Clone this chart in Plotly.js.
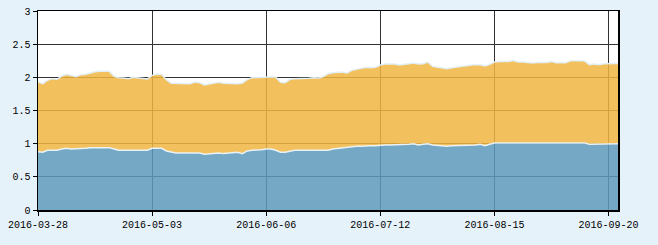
<!DOCTYPE html>
<html>
<head>
<meta charset="utf-8">
<script src="https://cdn.plot.ly/plotly-3.0.1.min.js"></script>
<style>
html,body{margin:0;padding:0;background:#e6f2fa;}
#chart{width:658px;height:245px;}
</style>
</head>
<body>
<div id="chart"></div>
<script>
const dates = [
"2016-03-28","2016-03-29","2016-03-30","2016-03-31","2016-04-01",
"2016-04-05","2016-04-06","2016-04-07","2016-04-08",
"2016-04-11","2016-04-12","2016-04-13","2016-04-14","2016-04-15",
"2016-04-18","2016-04-19","2016-04-20","2016-04-21","2016-04-22",
"2016-04-25","2016-04-26","2016-04-27","2016-04-28","2016-04-29",
"2016-05-03","2016-05-04","2016-05-05","2016-05-06",
"2016-05-09","2016-05-10","2016-05-11","2016-05-12","2016-05-13",
"2016-05-16","2016-05-17","2016-05-18","2016-05-19","2016-05-20",
"2016-05-23","2016-05-24","2016-05-25","2016-05-26","2016-05-27",
"2016-05-30","2016-05-31","2016-06-01","2016-06-02","2016-06-03",
"2016-06-06","2016-06-07","2016-06-08",
"2016-06-13","2016-06-14","2016-06-15","2016-06-16","2016-06-17",
"2016-06-20","2016-06-21","2016-06-22","2016-06-23","2016-06-24",
"2016-06-27","2016-06-28","2016-06-29","2016-06-30","2016-07-01",
"2016-07-04","2016-07-05","2016-07-06","2016-07-07","2016-07-08",
"2016-07-11","2016-07-12","2016-07-13","2016-07-14","2016-07-15",
"2016-07-18","2016-07-19","2016-07-20","2016-07-21","2016-07-22",
"2016-07-25","2016-07-26","2016-07-27","2016-07-28","2016-07-29",
"2016-08-01","2016-08-02","2016-08-03","2016-08-04","2016-08-05",
"2016-08-08","2016-08-09","2016-08-10","2016-08-11","2016-08-12",
"2016-08-15","2016-08-16","2016-08-17","2016-08-18","2016-08-19",
"2016-08-22","2016-08-23","2016-08-24","2016-08-25","2016-08-26",
"2016-08-29","2016-08-30","2016-08-31","2016-09-01","2016-09-02",
"2016-09-05","2016-09-06","2016-09-07","2016-09-08","2016-09-09",
"2016-09-12","2016-09-13","2016-09-14",
"2016-09-19","2016-09-20","2016-09-21","2016-09-22"
];

const seriesBlue = [
0.88,0.87,0.90,0.90,0.90,0.92,0.93,0.92,0.92,0.93,
0.93,0.94,0.94,0.94,0.94,0.94,0.92,0.90,0.90,0.90,
0.90,0.90,0.90,0.90,0.93,0.93,0.93,0.89,0.87,0.86,
0.86,0.86,0.86,0.86,0.86,0.84,0.85,0.86,0.86,0.85,
0.86,0.86,0.87,0.85,0.89,0.90,0.90,0.91,0.92,0.92,
0.90,0.87,0.87,0.89,0.90,0.90,0.90,0.90,0.91,0.90,
0.91,0.90,0.92,0.93,0.94,0.95,0.95,0.96,0.96,0.97,
0.97,0.97,0.98,0.98,0.98,0.98,0.98,0.98,0.99,1.00,
0.98,0.99,1.00,0.98,0.97,0.97,0.96,0.97,0.97,0.97,
0.98,0.98,0.98,0.99,0.97,0.99,1.01,1.01,1.01,1.01,
1.00,1.00,1.00,1.00,1.00,1.00,1.01,1.01,1.01,1.00,
1.00,1.00,1.01,1.01,1.01,1.01,0.99,0.99,0.99,0.99,
0.99,1.00,1.00
];

const seriesOrange = [
1.05,1.035,1.055,1.08,1.07,1.10,1.115,1.11,1.09,1.11,
1.115,1.125,1.145,1.15,1.145,1.15,1.095,1.095,1.09,1.08,
1.10,1.09,1.09,1.075,1.10,1.12,1.115,1.075,1.04,1.05,
1.045,1.045,1.045,1.07,1.06,1.045,1.05,1.05,1.065,1.06,
1.045,1.045,1.035,1.065,1.075,1.095,1.10,1.095,1.09,1.085,
1.105,1.055,1.05,1.08,1.08,1.08,1.09,1.085,1.085,1.09,
1.10,1.155,1.15,1.145,1.14,1.115,1.155,1.16,1.175,1.18,
1.175,1.18,1.205,1.22,1.22,1.22,1.205,1.22,1.215,1.215,
1.22,1.215,1.23,1.185,1.185,1.175,1.17,1.175,1.185,1.195,
1.19,1.20,1.215,1.20,1.20,1.205,1.22,1.23,1.23,1.23,
1.255,1.23,1.23,1.225,1.215,1.225,1.215,1.215,1.23,1.22,
1.22,1.22,1.24,1.245,1.24,1.235,1.20,1.21,1.20,1.215,
1.215,1.21,1.21
];

const xTicks = ["2016-03-28","2016-05-03","2016-06-06","2016-07-12","2016-08-15","2016-09-20"];
const yTicks = [0,0.5,1,1.5,2,2.5,3];

const traces = [
  {
    x: dates, y: seriesBlue, type: 'scatter', mode: 'lines',
    stackgroup: 'one', fill: 'tozeroy',
    line: {color: 'rgba(235,244,250,0.95)', width: 1.5},
    fillcolor: 'rgba(94,154,188,0.86)',
    hoverinfo: 'skip', showlegend: false
  },
  {
    x: dates, y: seriesOrange, type: 'scatter', mode: 'lines',
    stackgroup: 'one', fill: 'tonexty',
    line: {color: 'rgba(225,240,250,0.95)', width: 1.5},
    fillcolor: 'rgba(241,181,66,0.85)',
    hoverinfo: 'skip', showlegend: false
  }
];

const layout = {
  width: 658, height: 245,
  margin: {l: 38, r: 40, t: 11, b: 35, pad: 0},
  paper_bgcolor: '#e6f2fa',
  plot_bgcolor: '#ffffff',
  font: {family: '"Liberation Mono", "DejaVu Sans Mono", monospace', size: 10, color: '#000'},
  showlegend: false,
  xaxis: {
    type: 'category',
    range: [0, dates.length - 1],
    tickmode: 'array', tickvals: xTicks, ticktext: xTicks,
    ticks: 'outside', ticklen: 4, tickcolor: '#000', tickwidth: 1,
    showgrid: true, gridcolor: '#333333', gridwidth: 1,
    showline: true, linecolor: '#000', linewidth: 1.5, mirror: true,
    zeroline: false, tickangle: 0, fixedrange: true
  },
  yaxis: {
    range: [0, 3],
    tickmode: 'array', tickvals: yTicks, ticktext: yTicks.map(String),
    ticks: 'outside', ticklen: 4, tickcolor: '#000', tickwidth: 1,
    showgrid: true, gridcolor: '#333333', gridwidth: 1,
    showline: true, linecolor: '#000', linewidth: 1.5, mirror: true,
    zeroline: false, fixedrange: true
  }
};

Plotly.newPlot('chart', traces, layout, {displayModeBar: false, staticPlot: true});
</script>
</body>
</html>
